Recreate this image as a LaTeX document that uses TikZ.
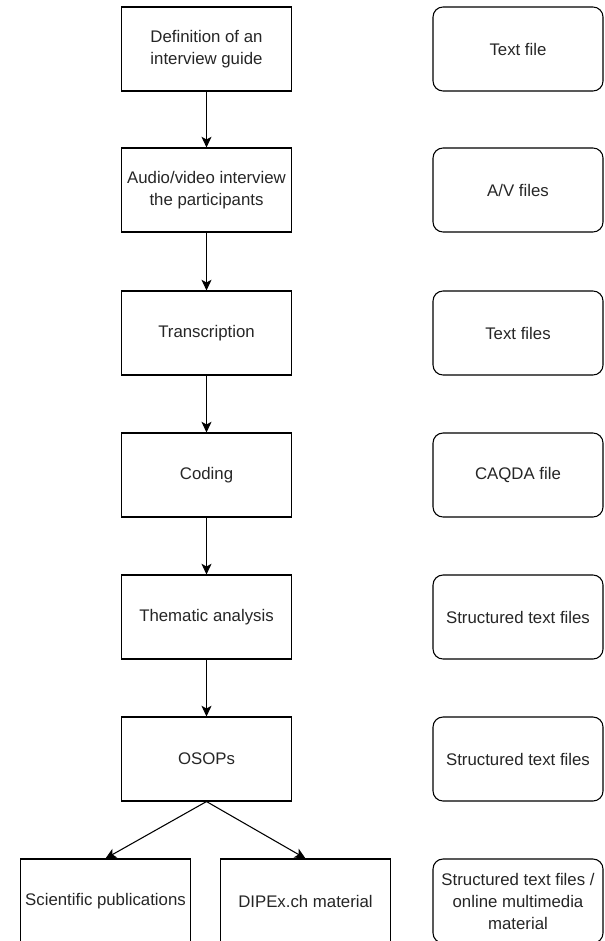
\documentclass[tikz,border=0pt]{standalone}
\usepackage{fontspec}
\setmainfont{Liberation Sans}
\usetikzlibrary{arrows.meta}
\tikzset{
  stepbox/.style={draw, line width=0.8pt, minimum width=128pt, minimum height=63pt,
    align=center, inner sep=2pt, font=\fontsize{12.6}{16.5}\selectfont, text=black!85},
  filebox/.style={stepbox, rounded corners=7.5pt, minimum width=127.5pt},
  flow/.style={-{Stealth[length=8pt,width=7.5pt,inset=2pt]}, line width=0.8pt}
}
\begin{document}
\begin{tikzpicture}[x=0.75pt,y=-0.75pt]
    \clip (0,0) rectangle (604,941);
    \fill[white] (0,0) rectangle (604,941);

    % Arbeitsschritte
    \node[stepbox] (guide) at (206.5,49) {Definition of an\\interview guide};
    \node[stepbox] (interview) at (206.5,190) {Audio/video interview\\the participants};
    \node[stepbox] (transcription) at (206.5,333) {Transcription};
    \node[stepbox] (coding) at (206.5,475) {Coding};
    \node[stepbox] (analysis) at (206.5,617) {Thematic analysis};
    \node[stepbox] (osops) at (206.5,759) {OSOPs};
    \node[stepbox] (publications) at (105.5,901) {Scientific publications};
    \node[stepbox] (dipex) at (305.5,901) {DIPEx.ch material};

    % Dateien
    \node[filebox] (textfile) at (518,49) {Text file};
    \node[filebox] (avfiles) at (518,190) {A/V files};
    \node[filebox] (textfiles) at (518,333) {Text files};
    \node[filebox] (caqda) at (518,475) {CAQDA file};
    \node[filebox] (structured) at (518,617) {Structured text files};
    \node[filebox] (structuredb) at (518,759) {Structured text files};
    \node[filebox] (online) at (518,901) {Structured text files /\\online multimedia\\material};

    % Pfeile
    \draw[flow] (guide) -- (interview);
    \draw[flow] (interview) -- (transcription);
    \draw[flow] (transcription) -- (coding);
    \draw[flow] (coding) -- (analysis);
    \draw[flow] (analysis) -- (osops);
    \draw[flow] (osops.south) -- (publications.north);
    \draw[flow] (osops.south) -- (dipex.north);
\end{tikzpicture}
\end{document}
